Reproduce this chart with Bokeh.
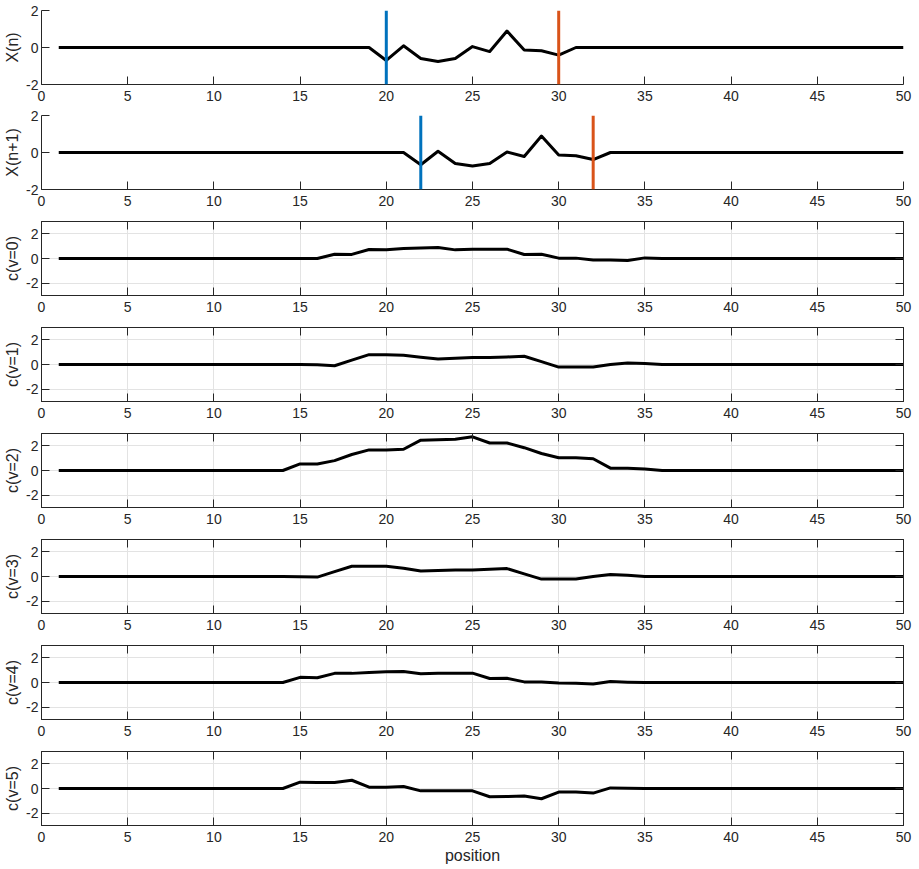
from bokeh.plotting import figure
from bokeh.layouts import column
from bokeh.models import (Range1d, FixedTicker, LinearAxis, Span,
                          CustomLabelingPolicy)
from bokeh.embed import file_html
from bokeh.resources import INLINE

# ---- data -------------------------------------------------------------
position = list(range(1, 51))

x_n = [0, 0, 0, 0, 0, 0, 0, 0, 0, 0,
       0, 0, 0, 0, 0, 0, 0, 0, 0, -0.70,
       0.09, -0.59, -0.76, -0.59, 0.05, -0.22, 0.89, -0.13, -0.18, -0.41,
       0, 0, 0, 0, 0, 0, 0, 0, 0, 0,
       0, 0, 0, 0, 0, 0, 0, 0, 0, 0]

x_n1 = [0, 0, 0, 0, 0, 0, 0, 0, 0, 0,
        0, 0, 0, 0, 0, 0, 0, 0, 0, 0,
        0, -0.66, 0.07, -0.59, -0.73, -0.59, 0.03, -0.22, 0.89, -0.13,
        -0.18, -0.38, 0, 0, 0, 0, 0, 0, 0, 0,
        0, 0, 0, 0, 0, 0, 0, 0, 0, 0]

c_v0 = [0, 0, 0, 0, 0, 0, 0, 0, 0, 0,
        0, 0, 0, 0, 0, 0, 0.35, 0.33, 0.73, 0.70,
        0.81, 0.86, 0.89, 0.70, 0.76, 0.76, 0.76, 0.32, 0.35, 0.03,
        0.03, -0.13, -0.13, -0.17, 0.05, 0, 0, 0, 0, 0,
        0, 0, 0, 0, 0, 0, 0, 0, 0, 0]

c_v1 = [0, 0, 0, 0, 0, 0, 0, 0, 0, 0,
        0, 0, 0, 0, 0, -0.03, -0.10, 0.35, 0.80, 0.80,
        0.75, 0.59, 0.45, 0.50, 0.56, 0.56, 0.61, 0.67, 0.23, -0.21,
        -0.20, -0.21, 0.0, 0.13, 0.08, 0, 0, 0, 0, 0,
        0, 0, 0, 0, 0, 0, 0, 0, 0, 0]

c_v2 = [0, 0, 0, 0, 0, 0, 0, 0, 0, 0,
        0, 0, 0, 0, 0.53, 0.53, 0.80, 1.30, 1.67, 1.67,
        1.72, 2.46, 2.49, 2.54, 2.73, 2.23, 2.23, 1.85, 1.38, 1.03,
        1.03, 0.95, 0.19, 0.19, 0.13, 0, 0, 0, 0, 0,
        0, 0, 0, 0, 0, 0, 0, 0, 0, 0]

c_v3 = [0, 0, 0, 0, 0, 0, 0, 0, 0, 0,
        0, 0, 0, 0, -0.02, -0.05, 0.39, 0.83, 0.83, 0.83,
        0.67, 0.45, 0.48, 0.53, 0.53, 0.59, 0.64, 0.21, -0.21, -0.21,
        -0.21, 0.0, 0.16, 0.10, 0, 0, 0, 0, 0, 0,
        0, 0, 0, 0, 0, 0, 0, 0, 0, 0]

c_v4 = [0, 0, 0, 0, 0, 0, 0, 0, 0, 0,
        0, 0, 0, 0, 0.42, 0.39, 0.74, 0.74, 0.82, 0.87,
        0.89, 0.71, 0.76, 0.76, 0.76, 0.32, 0.34, 0.05, 0.05, -0.05,
        -0.07, -0.13, 0.08, 0.03, 0, 0, 0, 0, 0, 0,
        0, 0, 0, 0, 0, 0, 0, 0, 0, 0]

c_v5 = [0, 0, 0, 0, 0, 0, 0, 0, 0, 0,
        0, 0, 0, 0, 0.51, 0.48, 0.48, 0.67, 0.11, 0.11,
        0.16, -0.19, -0.19, -0.19, -0.19, -0.67, -0.65, -0.61, -0.83, -0.29,
        -0.29, -0.37, 0.05, 0.03, 0, 0, 0, 0, 0, 0,
        0, 0, 0, 0, 0, 0, 0, 0, 0, 0]

window_n = [20, 30]       # window edges on X(n)
window_n1 = [22, 32]      # window edges on X(n+1)
window_colors = ["#0072BD", "#D95319"]

x_ticks = [0, 5, 10, 15, 20, 25, 30, 35, 40, 45, 50]
y_ticks = [-2, 0, 2]
y_tick_text = {-2: "-2", 0: "0", 2: "2"}

# ---- styling ----------------------------------------------------------
FONT = "Liberation Sans"
INK = "#262626"
GRID = "#e3e3e3"
FRAME_W, FRAME_H = 862, 74


def style_axis(ax, ticks, show_labels=True):
    ax.ticker = FixedTicker(ticks=ticks)
    ax.minor_tick_line_color = None
    ax.major_tick_in = 8
    ax.major_tick_out = 0
    ax.major_tick_line_color = INK
    ax.axis_line_color = INK
    ax.axis_line_width = 1
    ax.major_label_text_font = FONT
    ax.major_label_text_color = INK
    if show_labels:
        ax.major_label_text_font_size = "14px"
        ax.major_label_standoff = 3
    else:
        # tick marks only (box edges): no labels at all
        ax.major_label_text_font_size = "0px"
        ax.major_label_standoff = 0
        ax.major_label_policy = CustomLabelingPolicy(code="return []")
    ax.axis_label_text_font = FONT
    ax.axis_label_text_font_size = "16px"
    ax.axis_label_text_font_style = "normal"
    ax.axis_label_text_color = INK
    ax.axis_label_standoff = 2


def make_panel(values, ylabel, ylim, boxed, top_border, bottom_border,
               xlabel=None, windows=None):
    p = figure(frame_width=FRAME_W, frame_height=FRAME_H,
               x_range=Range1d(0, 50), y_range=Range1d(*ylim),
               output_backend="svg", toolbar_location=None,
               min_border_left=41, min_border_right=16,
               min_border_top=top_border, min_border_bottom=bottom_border,
               background_fill_color="white", border_fill_color="white")
    style_axis(p.xaxis[0], x_ticks)
    p.xaxis[0].major_label_standoff = 6
    style_axis(p.yaxis[0], y_ticks)
    p.yaxis[0].major_label_overrides = y_tick_text
    p.yaxis[0].axis_label = ylabel
    if xlabel:
        p.xaxis[0].axis_label = xlabel

    if boxed:
        p.xgrid.grid_line_color = GRID
        p.ygrid.grid_line_color = GRID
        p.outline_line_color = INK
        top = LinearAxis()
        style_axis(top, x_ticks, show_labels=False)
        p.add_layout(top, "above")
        right = LinearAxis()
        style_axis(right, y_ticks, show_labels=False)
        p.add_layout(right, "right")
    else:
        p.xgrid.grid_line_color = None
        p.ygrid.grid_line_color = None
        p.outline_line_color = None

    p.line(position, values, line_color="#000000", line_width=3,
           line_join="round")

    if windows:
        for loc, col in zip(windows, window_colors):
            p.add_layout(Span(location=loc, dimension="height",
                              line_color=col, line_width=3))
    return p


panels = [
    make_panel(x_n, "X(n)", (-2, 2), False, 10, 23, windows=window_n),
    make_panel(x_n1, "X(n+1)", (-2, 2), False, 8, 24, windows=window_n1),
    make_panel(c_v0, "c(v=0)", (-3, 3), True, 8, 24),
    make_panel(c_v1, "c(v=1)", (-3, 3), True, 8, 24),
    make_panel(c_v2, "c(v=2)", (-3, 3), True, 8, 24),
    make_panel(c_v3, "c(v=3)", (-3, 3), True, 8, 24),
    make_panel(c_v4, "c(v=4)", (-3, 3), True, 8, 24),
    make_panel(c_v5, "c(v=5)", (-3, 3), True, 8, 43, xlabel="position"),
]

layout = column(*panels, spacing=0)

open("out.html", "w").write(file_html(layout, INLINE))
